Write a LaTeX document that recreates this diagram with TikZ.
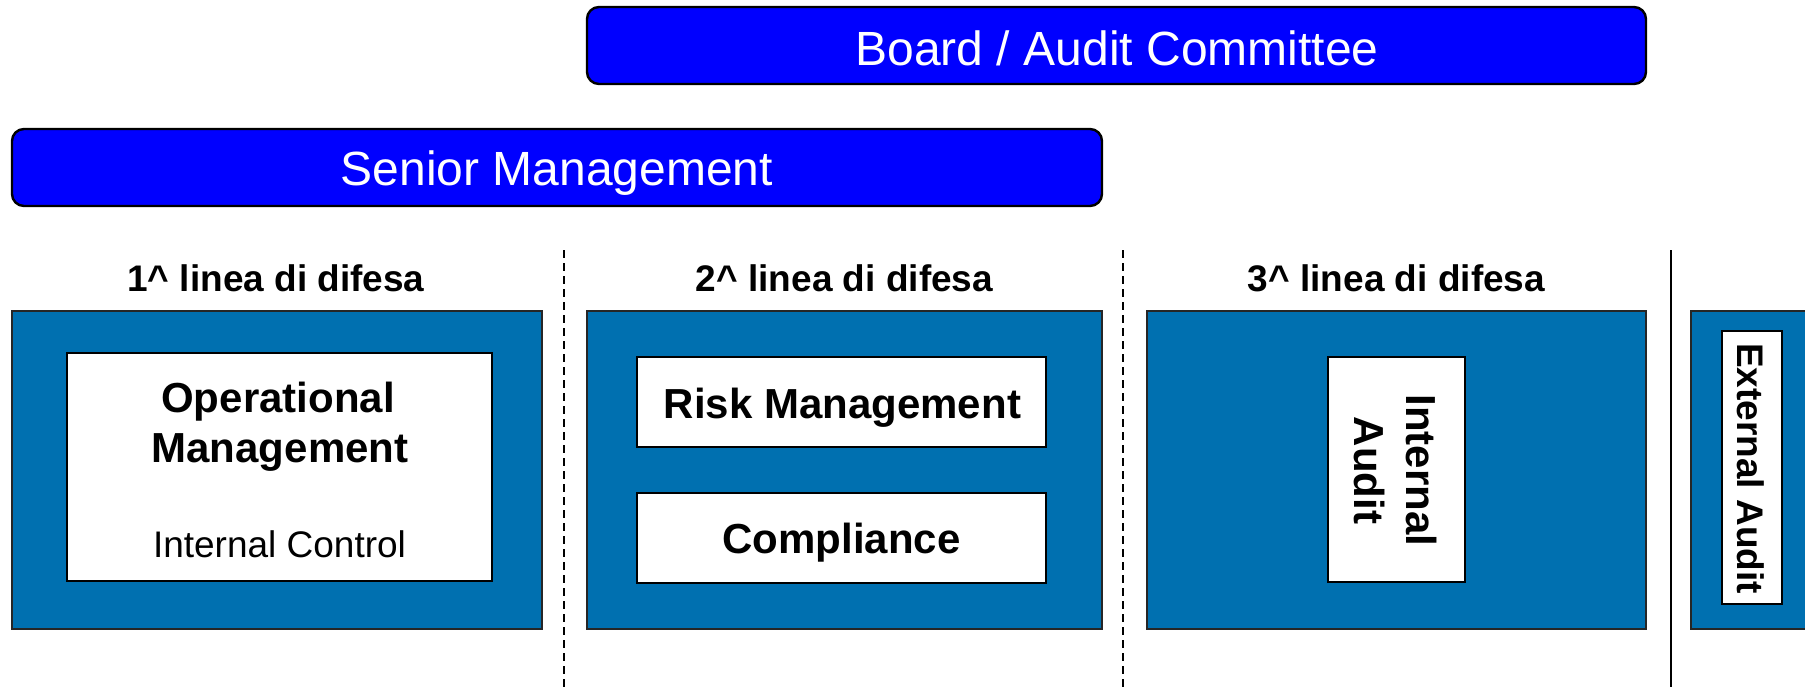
\documentclass[tikz,border=0pt]{standalone}
\usepackage{fontspec}
\setmainfont{Liberation Sans}
\definecolor{barblue}{RGB}{0,0,255}
\definecolor{lineblue}{RGB}{0,112,176}
\tikzset{
  topbar/.style={draw=black, line width=1.2pt, fill=barblue, rounded corners=6pt, inner sep=0pt},
  linebox/.style={draw=black!85, line width=1pt, fill=lineblue, inner sep=0pt},
  whitebox/.style={draw=black, line width=1pt, fill=white, inner sep=0pt},
  bartext/.style={inner sep=0pt, anchor=base, text=white, font=\fontsize{24pt}{28pt}\selectfont},
  headtext/.style={inner sep=0pt, anchor=base, font=\fontsize{18.5pt}{22pt}\selectfont\bfseries},
  bigbold/.style={inner sep=0pt, anchor=base, font=\fontsize{21pt}{25pt}\selectfont\bfseries},
  plaintext/.style={inner sep=0pt, anchor=base, font=\fontsize{18.5pt}{22pt}\selectfont},
  dashsep/.style={draw=black, line width=1pt, dash pattern=on 4pt off 2.5pt},
  solidsep/.style={draw=black, line width=1pt}
}
\begin{document}
\begin{tikzpicture}[x=0.5pt, y=-0.5pt]
\clip (0,0) rectangle (1805,686);
\fill[white] (0,0) rectangle (1805,686);
% top bars
\node[topbar, minimum width=529.5pt, minimum height=38.5pt] (board) at (1116.5,45.5) {};
\node[bartext] (boardt) at (1117,65) {Board / Audit Committee};
\node[topbar, minimum width=545pt, minimum height=38.5pt] (senior) at (557,167.5) {};
\node[bartext] (seniort) at (557,185) {Senior Management};
% headings
\node[headtext] (h1) at (276,291) {1\^{} linea di difesa};
\node[headtext] (h2) at (844.5,291) {2\^{} linea di difesa};
\node[headtext] (h3) at (1396.5,291) {3\^{} linea di difesa};
% separators
\coordinate (s1a) at (564,250); \coordinate (s1b) at (564,690);
\coordinate (s2a) at (1123,250); \coordinate (s2b) at (1123,690);
\coordinate (s3a) at (1671,250); \coordinate (s3b) at (1671,690);
\draw[dashsep] (s1a) -- (s1b);
\draw[dashsep] (s2a) -- (s2b);
\draw[solidsep] (s3a) -- (s3b);
% blue boxes
\node[linebox, minimum width=265pt, minimum height=159pt] (l1) at (277,470) {};
\node[linebox, minimum width=257.5pt, minimum height=159pt] (l2) at (844.5,470) {};
\node[linebox, minimum width=249.5pt, minimum height=159pt] (l3) at (1396.5,470) {};
\node[linebox, minimum width=104.5pt, minimum height=159pt] (l4) at (1795.5,470) {};
% line 1
\node[whitebox, minimum width=212.5pt, minimum height=114pt] (opm) at (279.5,467) {};
\node[bigbold] (opm1) at (278,412) {Operational};
\node[bigbold] (opm2) at (280,462) {Management};
\node[plaintext] (ic) at (279.5,557) {Internal Control};
% line 2
\node[whitebox, minimum width=204.5pt, minimum height=45pt] (risk) at (841.5,402) {};
\node[bigbold] (riskt) at (842.5,418) {Risk Management};
\node[whitebox, minimum width=204.5pt, minimum height=45pt] (comp) at (841.5,538) {};
\node[bigbold] (compt) at (841.5,553) {Compliance};
% line 3
\node[whitebox, minimum width=68.5pt, minimum height=112.5pt] (ia) at (1396.5,469.5) {};
\node[bigbold, rotate=-90] (ia1) at (1406,470.5) {Internal};
\node[bigbold, rotate=-90] (ia2) at (1354,470.5) {Audit};
% external
\node[whitebox, minimum width=30pt, minimum height=136.5pt] (ea) at (1752,467.5) {};
\node[headtext, rotate=-90] (eat) at (1737,468.5) {External Audit};
\end{tikzpicture}
\end{document}
